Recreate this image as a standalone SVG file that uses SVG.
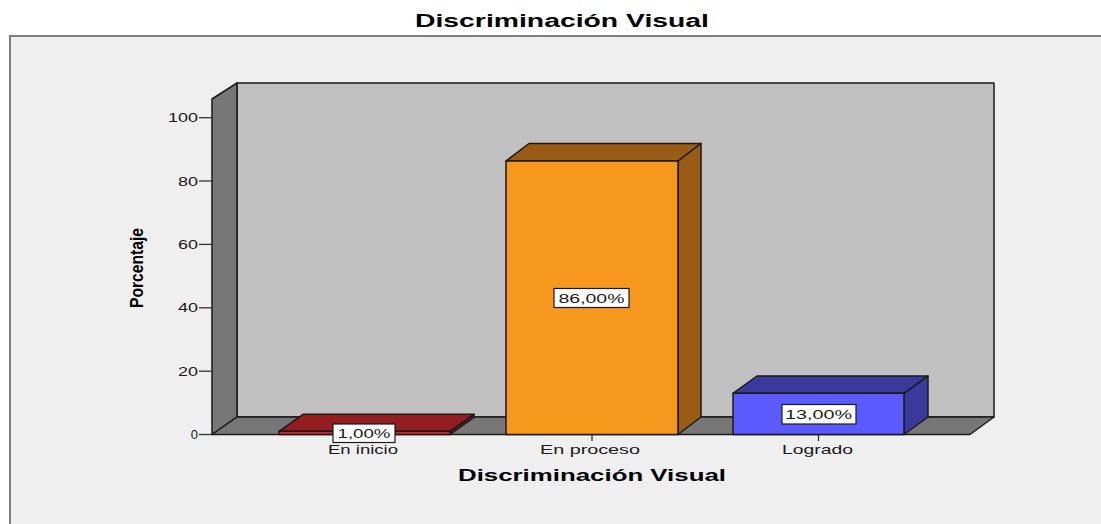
<svg xmlns="http://www.w3.org/2000/svg" width="1101" height="524" viewBox="0 0 1101 524">
<style>
.ln{stroke:#1a1a1a;stroke-width:1.5;stroke-linejoin:round}
.tk{stroke:#333;stroke-width:1.3}
.num{font-family:"Liberation Sans",Arial,sans-serif;font-size:13px;fill:#1a1a1a}
.lbl{font-family:"Liberation Sans",Arial,sans-serif;font-size:13px;fill:#1a1a1a;text-anchor:middle}
.box{fill:#ffffff;stroke:#1a1a1a;stroke-width:1.2}
.ttl{font-family:"Liberation Sans",Arial,sans-serif;font-weight:bold;fill:#000;text-anchor:middle}
</style>
<rect x="0" y="0" width="1101" height="524" fill="#ffffff"/>
<rect x="10" y="36" width="1100" height="500" fill="#efefef" stroke="#7f7f7f" stroke-width="2"/>
<text class="ttl" x="562" y="27" font-size="18" textLength="294" lengthAdjust="spacingAndGlyphs">Discriminación Visual</text>
<g id="plot">
<rect x="237" y="83" width="757" height="334" fill="#c0c0c0" class="ln"/>
<polygon points="212,99 237,83 237,417 212,434.5" fill="#777777" class="ln"/>
<polygon points="212,434.5 237,417 994,417 970,434.5" fill="#777777" class="ln"/>
</g>
<g id="yaxis">
<line class="tk" x1="199" y1="434.5" x2="212" y2="434.5"/>
<line class="tk" x1="199" y1="371.2" x2="212" y2="371.2"/>
<line class="tk" x1="199" y1="307.8" x2="212" y2="307.8"/>
<line class="tk" x1="199" y1="244.4" x2="212" y2="244.4"/>
<line class="tk" x1="199" y1="181" x2="212" y2="181"/>
<line class="tk" x1="199" y1="117.7" x2="212" y2="117.7"/>
<text class="num" x="198" y="439" text-anchor="end">0</text>
<text class="num" x="198" y="375.7" text-anchor="end" textLength="20" lengthAdjust="spacingAndGlyphs">20</text>
<text class="num" x="198" y="312.3" text-anchor="end" textLength="20" lengthAdjust="spacingAndGlyphs">40</text>
<text class="num" x="198" y="248.9" text-anchor="end" textLength="20" lengthAdjust="spacingAndGlyphs">60</text>
<text class="num" x="198" y="185.5" text-anchor="end" textLength="20" lengthAdjust="spacingAndGlyphs">80</text>
<text class="num" x="198" y="122.2" text-anchor="end" textLength="30" lengthAdjust="spacingAndGlyphs">100</text>
<text class="ttl" transform="translate(143,268) rotate(-90)" font-size="18" textLength="80" lengthAdjust="spacingAndGlyphs">Porcentaje</text>
</g>
<g id="xaxis">
<line class="tk" x1="364.5" y1="434.5" x2="364.5" y2="441"/>
<line class="tk" x1="592" y1="434.5" x2="592" y2="441"/>
<line class="tk" x1="818.5" y1="434.5" x2="818.5" y2="441"/>
<text class="lbl" x="363" y="454" textLength="70" lengthAdjust="spacingAndGlyphs">En inicio</text>
<text class="lbl" x="590" y="454" textLength="100" lengthAdjust="spacingAndGlyphs">En proceso</text>
<text class="lbl" x="817.5" y="454" textLength="71" lengthAdjust="spacingAndGlyphs">Logrado</text>
<text class="ttl" x="592" y="481" font-size="17" textLength="268" lengthAdjust="spacingAndGlyphs">Discriminación Visual</text>
</g>
<g id="bar-en-inicio">
<polygon points="279,431.3 303,414.3 474,414.3 450,431.3" fill="#941d20" class="ln"/>
<polygon points="450,431.3 474,414.3 474,417.5 450,434.5" fill="#6e1416" class="ln"/>
<rect x="279" y="431.3" width="171" height="3.2" fill="#c8282c" class="ln"/>
<rect class="box" x="333" y="424" width="62" height="18.5"/>
<text class="lbl" x="364" y="438" textLength="53" lengthAdjust="spacingAndGlyphs">1,00%</text>
</g>
<g id="bar-en-proceso">
<polygon points="506,161 529,143.5 701,143.5 678,161" fill="#9a5c14" class="ln"/>
<polygon points="678,161 701,143.5 701,417 678,434.5" fill="#9a5c14" class="ln"/>
<rect x="506" y="161" width="172" height="273.5" fill="#f7981e" class="ln"/>
<rect class="box" x="554" y="288.5" width="75" height="19"/>
<text class="lbl" x="591.5" y="303" textLength="66" lengthAdjust="spacingAndGlyphs">86,00%</text>
</g>
<g id="bar-logrado">
<polygon points="733,393.3 757,376 928,376 904,393.3" fill="#3a3a9c" class="ln"/>
<polygon points="904,393.3 928,376 928,417 904,434.5" fill="#3a3a9c" class="ln"/>
<rect x="733" y="393.3" width="171" height="41.2" fill="#5a5aff" class="ln"/>
<rect class="box" x="782" y="404.5" width="74" height="19.5"/>
<text class="lbl" x="818.5" y="419" textLength="67" lengthAdjust="spacingAndGlyphs">13,00%</text>
</g>
</svg>
